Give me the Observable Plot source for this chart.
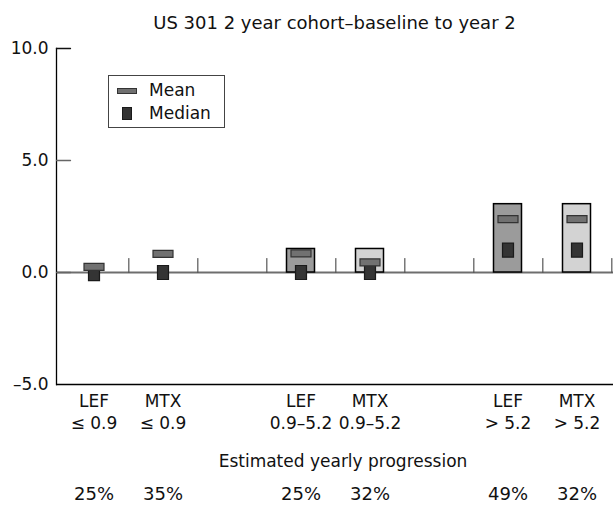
<!DOCTYPE html>
<html>
<head>
<meta charset="utf-8">
<script src="https://cdn.jsdelivr.net/npm/d3@7"></script>
<script src="https://cdn.jsdelivr.net/npm/@observablehq/plot@0.6"></script>
<style>
  body { margin: 0; background: #fff; }
  #wrap { position: relative; width: 613px; height: 508px; font-family: "DejaVu Sans", sans-serif; color: #111; }
  #title { position: absolute; left: 56px; top: 12px; width: 557px; text-align: center; font-size: 18px; line-height: 22px; }
  #chart { position: absolute; left: 0; top: 36px; }
  #legend { position: absolute; left: 108px; top: 75px; width: 115px; height: 51px; border: 1px solid #444; background: #fff; font-size: 17px; }
  #legend .sw { position: absolute; box-sizing: border-box; }
  #legend .lab { position: absolute; left: 40px; line-height: 18px; }
</style>
</head>
<body>
<div id="wrap">
  <div id="title">US 301 2 year cohort–baseline to year 2</div>
  <div id="chart"></div>
  <div id="legend">
    <div class="sw" style="left:8px;top:12px;width:20px;height:6px;background:#707070;border:1px solid #333;"></div>
    <div class="lab" style="top:5px;">Mean</div>
    <div class="sw" style="left:13px;top:31px;width:10px;height:13px;background:#333;border:1px solid #1a1a1a;"></div>
    <div class="lab" style="top:28px;">Median</div>
  </div>
</div>
<script>
// ---- data ----
const slots = ["LEF ≤ 0.9", "MTX ≤ 0.9", "gap A", "LEF 0.9–5.2", "MTX 0.9–5.2", "gap B", "LEF > 5.2", "MTX > 5.2"];
const drugs = ["LEF", "MTX", "LEF", "MTX", "LEF", "MTX"];
const ranges = ["≤ 0.9", "≤ 0.9", "0.9–5.2", "0.9–5.2", "> 5.2", "> 5.2"];
const barValues = [null, null, 1.05, 1.05, 3.05, 3.05];
const meanValues = [0.25, 0.83, 0.85, 0.45, 2.38, 2.38];
const medianValues = [-0.05, 0.0, 0.0, 0.0, 1.0, 1.0];
const progression = ["25%", "35%", "25%", "32%", "49%", "32%"];
const yTicks = [-5, 0, 5, 10];
const xTitle = "Estimated yearly progression";

const rows = drugs.map((drug, i) => ({
  drug, range: ranges[i], slot: `${drug} ${ranges[i]}`,
  bar: barValues[i], mean: meanValues[i], median: medianValues[i], prog: progression[i]
}));

const W = 613, H = 472, ML = 56, MR = 0;
const step = (W - ML - MR) / slots.length;
const rectSym = (w, h) => ({ draw(ctx) { ctx.rect(-w / 2, -h / 2, w, h); } });
const lineShape = { draw(ctx, l) { ctx.moveTo(0, 0); ctx.lineTo(0, -l); } };
const fmt = d => d3.format(".1f")(d).replace("−", "–");
const FONT = "DejaVu Sans, sans-serif";

const chart = Plot.plot({
  width: W, height: H,
  marginLeft: ML, marginRight: MR, marginTop: 12, marginBottom: 124,
  style: { fontFamily: FONT, fontSize: "17px", background: "white", color: "#111", overflow: "visible" },
  x: { type: "band", domain: slots, padding: 0, axis: null },
  y: { domain: [-5, 10], axis: null },
  marks: [
    Plot.ruleY([0], { stroke: "#6e6e6e", strokeWidth: 1.8 }),
    Plot.ruleY([-5], { stroke: "#000", strokeWidth: 1.3 }),
    Plot.frame({ anchor: "left", stroke: "#000", strokeWidth: 1.3 }),
    Plot.vector(yTicks.filter(d => d !== -5), {
      y: d => d, frameAnchor: "left", rotate: 90, length: 14, anchor: "start",
      shape: lineShape, stroke: d => d === 10 ? "#111" : "#666", strokeWidth: 1.3
    }),
    Plot.text(yTicks, { y: d => d, text: fmt, frameAnchor: "left", textAnchor: "end", dx: -8, fontSize: 17 }),
    Plot.vector(slots, {
      x: d => d, y: 0, dx: step / 2, length: 14, anchor: "start", shape: lineShape,
      stroke: "#555", strokeWidth: 1.2
    }),
    Plot.barY(rows.filter(d => d.bar != null), {
      x: "slot", y: "bar", fill: d => d.drug === "LEF" ? "#9b9b9b" : "#d3d3d3",
      stroke: "#000", strokeWidth: 1.5, insetLeft: 20.5, insetRight: 20.5
    }),
    Plot.dot(rows, { x: "slot", y: "median", symbol: rectSym(11, 14), fill: "#343434", stroke: "#1a1a1a", strokeWidth: 1.2 }),
    Plot.dot(rows, { x: "slot", y: "mean", symbol: rectSym(20, 7), fill: "#717171", stroke: "#333", strokeWidth: 1.2 }),
    Plot.text(rows, { x: "slot", y: -5, text: "drug", dy: 17 }),
    Plot.text(rows, { x: "slot", y: -5, text: "range", dy: 39 }),
    Plot.text([xTitle], { text: d => d, frameAnchor: "bottom", dy: 82, dx: 8, fontSize: 17 }),
    Plot.text(rows, { x: "slot", y: -5, text: "prog", dy: 110, fontSize: 18 })
  ]
});
document.getElementById("chart").appendChild(chart);
</script>
</body>
</html>
